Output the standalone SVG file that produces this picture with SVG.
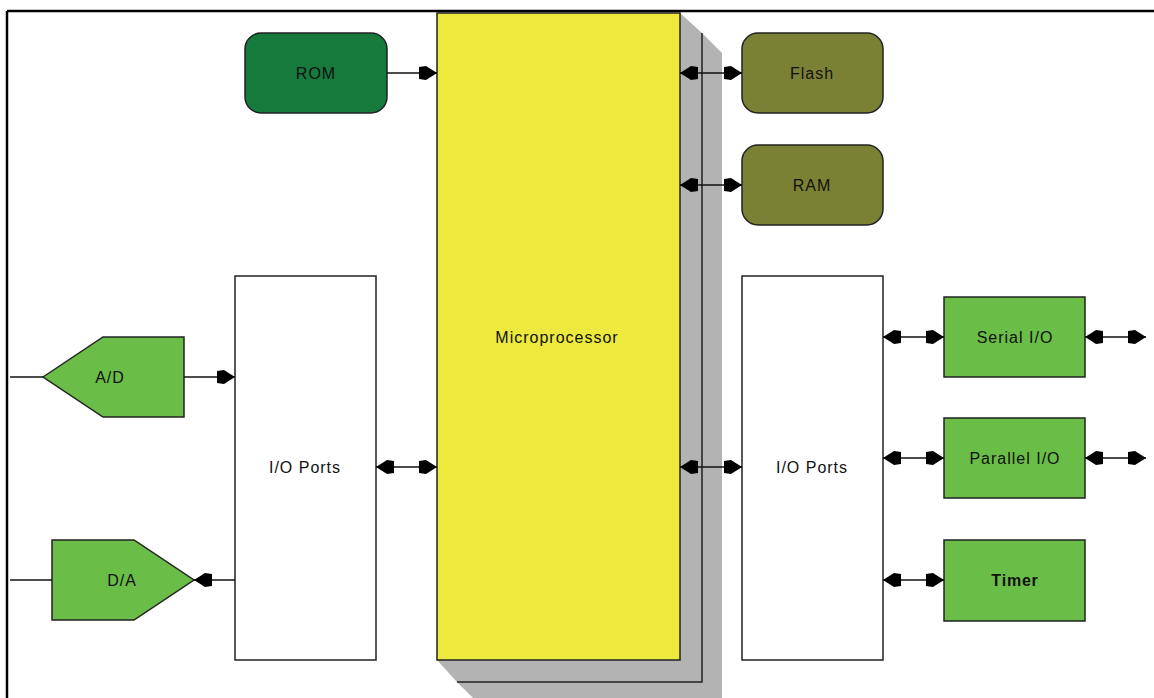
<svg xmlns="http://www.w3.org/2000/svg" width="1154" height="698" viewBox="0 0 1154 698">
  <style>
    .lbl { font-family: "Liberation Sans", Arial, sans-serif; font-size: 16px; letter-spacing: 1px; fill: #111; text-anchor: middle; dominant-baseline: central; }
    .bold { font-weight: bold; letter-spacing: 0.8px; }
    .box { stroke: #222; stroke-width: 1.5; }
    .mem { fill: #7b8134; }
    .blk { fill: #6abd46; }
    .port { fill: #fff; stroke: #222; stroke-width: 1.5; }
    .wire { stroke: #111; stroke-width: 1.5; fill: none; }
    .wire.one { marker-end: url(#head); }
    .wire.two { marker-start: url(#head); marker-end: url(#head); }
  </style>
  <defs>
    <marker id="head" viewBox="0 0 20 16" refX="20" refY="8" markerWidth="20" markerHeight="16" markerUnits="userSpaceOnUse" orient="auto-start-reverse">
      <path d="M20,8 L9,1 L2,2 L2,14 L9,15 Z" fill="#000"/>
    </marker>
  </defs>

  <rect width="1154" height="698" fill="#fff"/>

  <!-- outer frame -->
  <g id="frame" stroke="#000" stroke-width="2.5" fill="none">
    <line x1="7" y1="11" x2="1154" y2="11"/>
    <line x1="7" y1="11" x2="7" y2="698"/>
  </g>

  <!-- stacked microprocessor block -->
  <g id="microprocessor">
    <polygon points="702,33 722,53 722,702 477,702 457,682 702,682" fill="#b3b3b3"/>
    <polygon points="680,13 702,33 702,682 457,682 437,660 680,660" fill="#b3b3b3"/>
    <polyline points="702,33 702,682 457,682" fill="none" stroke="#222" stroke-width="1.5"/>
    <rect x="437" y="13" width="243" height="647" fill="#edea3d" class="box"/>
    <text class="lbl" x="557" y="337" letter-spacing="1.4">Microprocessor</text>
  </g>

  <g id="rom">
    <rect x="245" y="33" width="142" height="80" rx="16" fill="#167a3d" class="box"/>
    <text class="lbl" x="316" y="73">ROM</text>
  </g>
  <g id="flash">
    <rect x="742" y="33" width="141" height="80" rx="16" class="box mem"/>
    <text class="lbl" x="812" y="73">Flash</text>
  </g>
  <g id="ram">
    <rect x="742" y="145" width="141" height="80" rx="16" class="box mem"/>
    <text class="lbl" x="812" y="185">RAM</text>
  </g>

  <g id="io-left">
    <rect x="235" y="276" width="141" height="384" class="port"/>
    <text class="lbl" x="305" y="467">I/O Ports</text>
  </g>
  <g id="io-right">
    <rect x="742" y="276" width="141" height="384" class="port"/>
    <text class="lbl" x="812" y="467">I/O Ports</text>
  </g>

  <g id="adc">
    <polygon points="43,377 103,337 184,337 184,417 103,417" class="box blk"/>
    <text class="lbl" x="110" y="377">A/D</text>
  </g>
  <g id="dac">
    <polygon points="52,540 134,540 194,580 134,620 52,620" class="box blk"/>
    <text class="lbl" x="122" y="580">D/A</text>
  </g>

  <g id="serial">
    <rect x="944" y="297" width="141" height="80" class="box blk"/>
    <text class="lbl" x="1015" y="337">Serial I/O</text>
  </g>
  <g id="parallel">
    <rect x="944" y="418" width="141" height="80" class="box blk"/>
    <text class="lbl" x="1015" y="458">Parallel I/O</text>
  </g>
  <g id="timer">
    <rect x="944" y="540" width="141" height="81" class="box blk"/>
    <text class="lbl bold" x="1015" y="580">Timer</text>
  </g>

  <!-- connectors -->
  <g id="connectors">
    <line class="wire one" x1="387" y1="73" x2="437" y2="73"/>
    <line class="wire two" x1="680" y1="73" x2="742" y2="73"/>
    <line class="wire two" x1="680" y1="185" x2="742" y2="185"/>
    <line class="wire two" x1="376" y1="467" x2="437" y2="467"/>
    <line class="wire two" x1="680" y1="467" x2="742" y2="467"/>
    <line class="wire" x1="10" y1="377" x2="43" y2="377"/>
    <line class="wire one" x1="184" y1="377" x2="235" y2="377"/>
    <line class="wire" x1="10" y1="580" x2="52" y2="580"/>
    <line class="wire one" x1="235" y1="580" x2="194" y2="580"/>
    <line class="wire two" x1="883" y1="337" x2="944" y2="337"/>
    <line class="wire two" x1="1085" y1="337" x2="1146" y2="337"/>
    <line class="wire two" x1="883" y1="458" x2="944" y2="458"/>
    <line class="wire two" x1="1085" y1="458" x2="1146" y2="458"/>
    <line class="wire two" x1="883" y1="580" x2="944" y2="580"/>
  </g>
</svg>
